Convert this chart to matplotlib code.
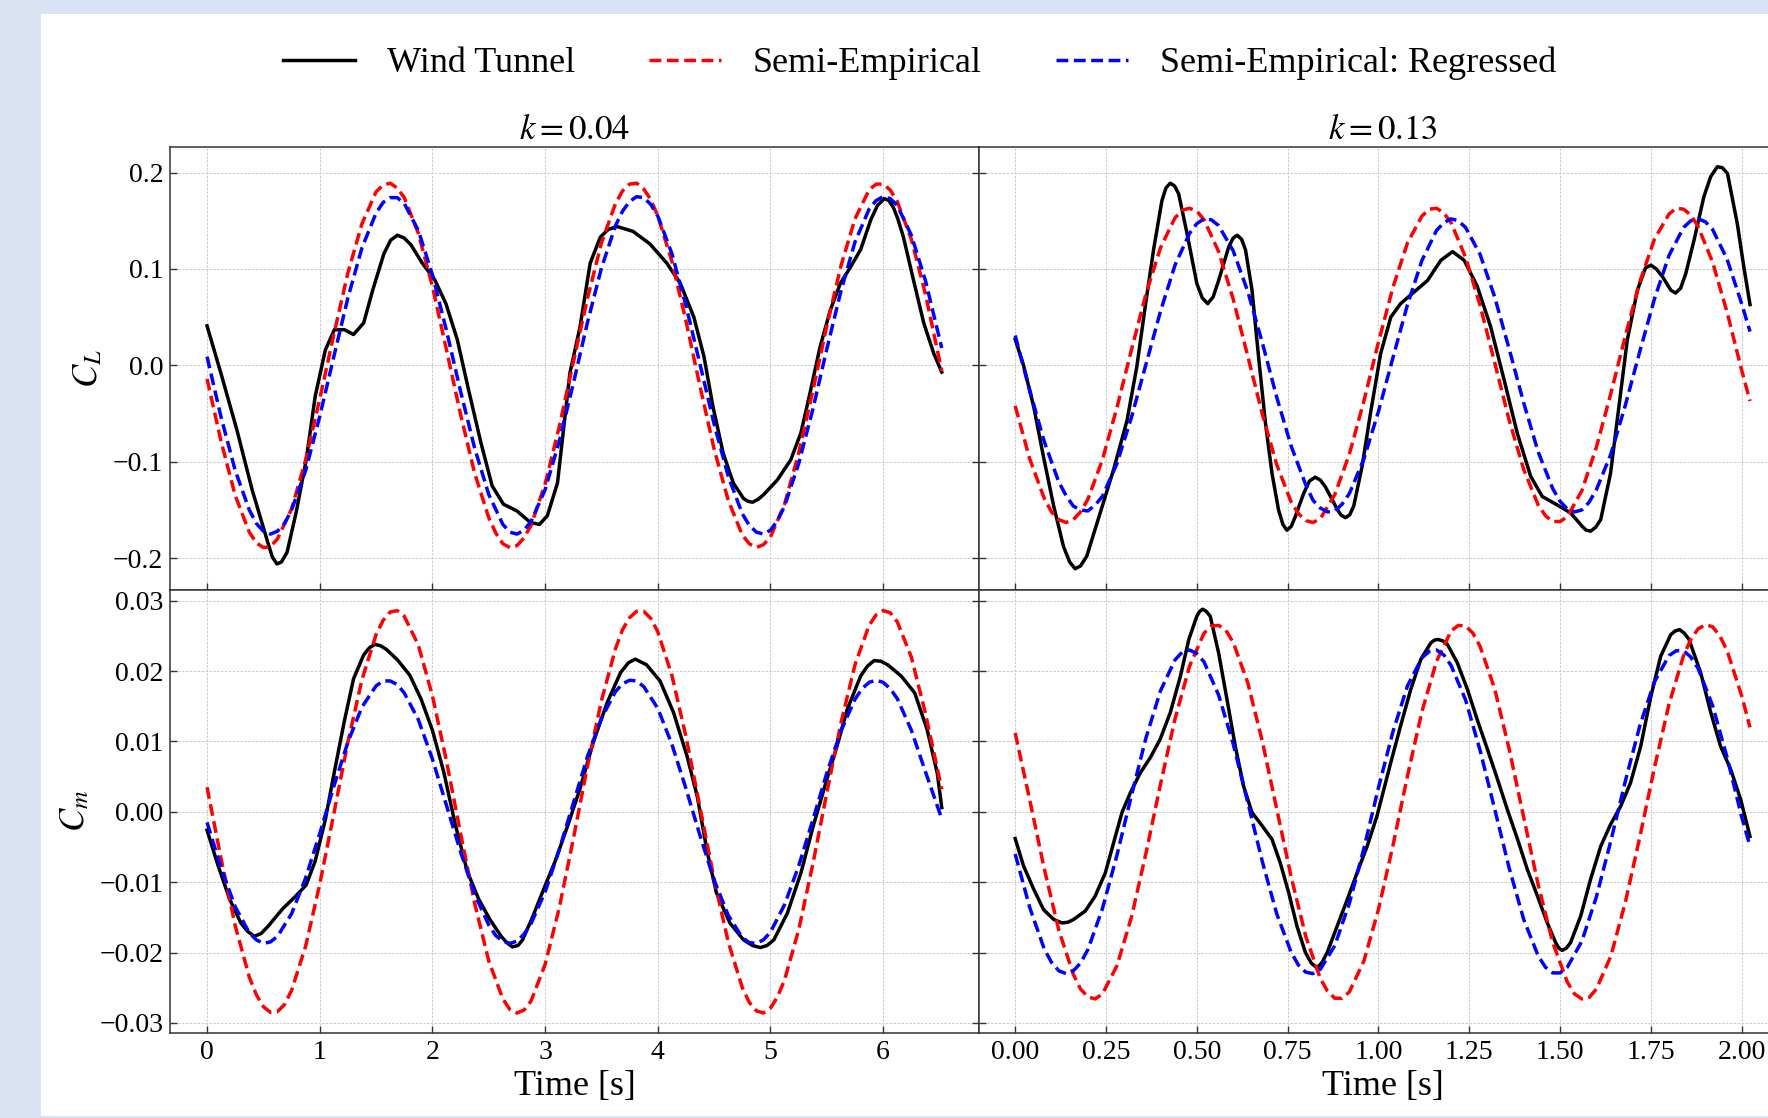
import numpy as np
import matplotlib
matplotlib.use('Agg')
import matplotlib.pyplot as plt
from matplotlib.patches import Rectangle
from matplotlib.ticker import MultipleLocator, FormatStrFormatter

plt.rcParams['font.family'] = ['Liberation Serif', 'DejaVu Serif']
plt.rcParams['mathtext.fontset'] = 'stix'
plt.rcParams['axes.unicode_minus'] = True

# ---------------- data ----------------
series_labels = ['Wind Tunnel', 'Semi-Empirical', 'Semi-Empirical: Regressed']
panel_titles = [r'$k=0.04$', r'$k=0.13$']
row_labels = [r'$C_L$', r'$C_m$']

# ===== k = 0.04, wind tunnel =====
t_wt_cl_04 = [0, 0.13, 0.265, 0.40, 0.54, 0.62, 0.71, 0.79, 0.88, 0.96, 1.05, 1.13, 1.22, 1.30, 1.39,
              1.47, 1.57, 1.69, 1.81, 1.91, 2.02, 2.12, 2.22, 2.32, 2.43, 2.53, 2.63, 2.75, 2.87, 2.95,
              3.02, 3.11, 3.16, 3.22, 3.31, 3.40, 3.49, 3.64, 3.78, 3.93, 4.08, 4.20, 4.32, 4.41, 4.49,
              4.58, 4.67, 4.76, 4.84, 4.94, 5.06, 5.18, 5.27, 5.35, 5.44, 5.53, 5.62, 5.71, 5.80, 5.89,
              6.01, 6.09, 6.18, 6.27, 6.36, 6.45, 6.52]
cl_wt_04 = [0.041, -0.011, -0.067, -0.129, -0.184, -0.206, -0.194, -0.153, -0.098, -0.032, 0.016, 0.037,
            0.037, 0.032, 0.044, 0.078, 0.116, 0.135, 0.125, 0.106, 0.089, 0.064, 0.027, -0.025, -0.080,
            -0.125, -0.144, -0.151, -0.163, -0.165, -0.156, -0.122, -0.070, -0.008, 0.040, 0.106, 0.133,
            0.144, 0.139, 0.126, 0.106, 0.085, 0.050, 0.009, -0.043, -0.091, -0.122, -0.138, -0.142,
            -0.134, -0.119, -0.098, -0.070, -0.029, 0.019, 0.057, 0.085, 0.102, 0.120, 0.151, 0.173,
            0.164, 0.133, 0.088, 0.044, 0.012, -0.007]
t_wt_cl_04_x = [0.58, 0.66, 1.63, 1.75, 3.56, 4.80, 4.89, 5.95, 6.05, 6.13]
cl_wt_04_x = [-0.199, -0.204, 0.130, 0.132, 0.141, -0.141, -0.139, 0.166, 0.171, 0.152]

t_wt_cm_04 = [0, 0.095, 0.20, 0.30, 0.42, 0.54, 0.67, 0.78, 0.88, 0.96, 1.05, 1.13, 1.22, 1.30, 1.39,
              1.49, 1.59, 1.69, 1.80, 1.90, 2.00, 2.10, 2.20, 2.31, 2.41, 2.51, 2.61, 2.71, 2.80, 2.88,
              2.99, 3.09, 3.20, 3.31, 3.43, 3.55, 3.67, 3.80, 3.90, 4.02, 4.14, 4.26, 4.35, 4.44, 4.52,
              4.64, 4.76, 4.91, 5.03, 5.15, 5.27, 5.38, 5.50, 5.59, 5.68, 5.80, 5.92, 6.04, 6.16, 6.28,
              6.39, 6.48, 6.52]
cm_wt_04 = [-0.0026, -0.0075, -0.0124, -0.0158, -0.0177, -0.0163, -0.0138, -0.0121, -0.0104, -0.0070,
            -0.0011, 0.0057, 0.0130, 0.0189, 0.0223, 0.0238, 0.0231, 0.0216, 0.0194, 0.0160, 0.0116,
            0.0057, -0.0016, -0.0085, -0.0124, -0.0153, -0.0177, -0.0192, -0.0182, -0.0153, -0.0109,
            -0.0070, -0.0020, 0.0033, 0.0100, 0.0155, 0.0198, 0.0217, 0.0209, 0.0186, 0.0141, 0.0079,
            0.0022, -0.0058, -0.0115, -0.0158, -0.0182, -0.0193, -0.0182, -0.0144, -0.0087, -0.0020,
            0.0046, 0.0093, 0.0145, 0.0193, 0.0215, 0.0209, 0.0193, 0.0169, 0.0117, 0.0055, 0.0006]
t_wt_cm_04_x = [0.36, 0.48, 1.44, 1.54, 2.66, 2.76, 3.74, 4.84, 4.97, 5.86, 5.98]
cm_wt_04_x = [-0.0170, -0.0173, 0.0233, 0.0236, -0.0186, -0.0190, 0.0212, -0.0190, -0.0190, 0.0207, 0.0214]

# ===== k = 0.04, semi-empirical models =====
t_se_04 = [0, 0.125, 0.25, 0.375, 0.5, 0.625, 0.75, 0.875, 1.0, 1.125, 1.25, 1.375, 1.5, 1.625, 1.75,
           1.875, 2.0, 2.125, 2.25, 2.375, 2.5, 2.625, 2.75, 2.875, 3.0, 3.125, 3.25, 3.375, 3.5, 3.625,
           3.75, 3.875, 4.0, 4.125, 4.25, 4.375, 4.5, 4.625, 4.75, 4.875, 5.0, 5.125, 5.25, 5.375, 5.5,
           5.625, 5.75, 5.875, 6.0, 6.125, 6.25, 6.375, 6.52]
cl_se_04 = [-0.014, -0.079, -0.135, -0.173, -0.189, -0.180, -0.149, -0.098, -0.035, 0.032, 0.096, 0.147,
            0.180, 0.189, 0.174, 0.137, 0.082, 0.016, -0.051, -0.112, -0.158, -0.185, -0.187, -0.166,
            -0.123, -0.064, 0.003, 0.069, 0.127, 0.168, 0.188, 0.183, 0.155, 0.108, 0.046, -0.022,
            -0.087, -0.140, -0.176, -0.189, -0.178, -0.144, -0.091, -0.027, 0.041, 0.103, 0.152, 0.182,
            0.188, 0.170, 0.131, 0.074, -0.006]
t_cl_se_04_x = [0.4375, 0.5625, 1.5625, 1.6875, 2.5625, 2.6875, 2.8125, 3.6875, 3.8125, 3.9375,
                4.8125, 4.9375, 5.9375, 6.0625]
cl_se_04_x = [-0.184, -0.188, 0.187, 0.184, -0.174, -0.189, -0.179, 0.181, 0.189, 0.172,
              -0.185, -0.186, 0.188, 0.182]

cl_reg_04 = [0.009, -0.054, -0.109, -0.150, -0.172, -0.172, -0.150, -0.109, -0.053, 0.009, 0.070, 0.122,
             0.158, 0.174, 0.168, 0.140, 0.094, 0.036, -0.027, -0.086, -0.134, -0.165, -0.175, -0.162,
             -0.129, -0.079, -0.019, 0.044, 0.101, 0.145, 0.170, 0.174, 0.155, 0.116, 0.062, 0.001,
             -0.061, -0.115, -0.154, -0.173, -0.171, -0.146, -0.102, -0.046, 0.017, 0.077, 0.128, 0.162,
             0.175, 0.166, 0.135, 0.088, 0.018]
t_cl_reg_04_x = [0.4375, 0.5625, 0.6875, 1.5625, 1.6875, 2.6875, 2.8125, 3.6875, 3.8125, 3.9375,
                 4.8125, 4.9375, 5.0625, 5.9375, 6.0625]
cl_reg_04_x = [-0.164, -0.175, -0.164, 0.169, 0.174, -0.173, -0.171, 0.160, 0.175, 0.167,
               -0.166, -0.175, -0.161, 0.171, 0.173]

cm_se_04 = [0.0035, -0.0067, -0.0162, -0.0235, -0.0277, -0.0284, -0.0254, -0.0191, -0.0103, -0.0003,
            0.0099, 0.0188, 0.0252, 0.0284, 0.0278, 0.0237, 0.0165, 0.0072, -0.0031, -0.0130, -0.0212,
            -0.0266, -0.0286, -0.0269, -0.0217, -0.0137, -0.0039, 0.0064, 0.0158, 0.0232, 0.0276,
            0.0285, 0.0256, 0.0194, 0.0107, 0.0006, -0.0096, -0.0185, -0.0250, -0.0283, -0.0279,
            -0.0239, -0.0168, -0.0075, 0.0027, 0.0126, 0.0209, 0.0265, 0.0286, 0.0270, 0.0220, 0.0140,
            0.0032]
t_cm_se_04_x = [0.4375, 0.5625, 0.6875, 1.5625, 1.6875, 2.6875, 2.8125, 3.6875, 3.8125, 3.9375,
                4.8125, 4.9375, 5.0625, 5.9375, 6.0625]
cm_se_04_x = [-0.0260, -0.0285, -0.0274, 0.0272, 0.0286, -0.0281, -0.0282, 0.0259, 0.0285, 0.0275,
              -0.0271, -0.0286, -0.0263, 0.0280, 0.0283]

cm_reg_04 = [-0.0015, -0.0080, -0.0135, -0.0172, -0.0187, -0.0177, -0.0145, -0.0094, -0.0031, 0.0036,
             0.0099, 0.0149, 0.0179, 0.0186, 0.0169, 0.0131, 0.0075, 0.0009, -0.0057, -0.0117, -0.0161,
             -0.0184, -0.0184, -0.0159, -0.0114, -0.0054, 0.0012, 0.0078, 0.0133, 0.0171, 0.0187,
             0.0178, 0.0147, 0.0096, 0.0033, -0.0034, -0.0097, -0.0147, -0.0179, -0.0187, -0.0171,
             -0.0132, -0.0077, -0.0012, 0.0055, 0.0115, 0.0160, 0.0184, 0.0184, 0.0161, 0.0116, 0.0057,
             -0.0010]
t_cm_reg_04_x = [0.4375, 0.5625, 1.5625, 1.6875, 2.5625, 2.6875, 2.8125, 3.6875, 3.8125,
                 4.8125, 4.9375, 5.8125, 5.9375, 6.0625]
cm_reg_04_x = [-0.0182, -0.0185, 0.0186, 0.0181, -0.0176, -0.0187, -0.0174, 0.0182, 0.0186,
               -0.0186, -0.0182, 0.0175, 0.0187, 0.0175]

# ===== k = 0.13, wind tunnel =====
t_wt_cl_13 = [0, 0.023, 0.051, 0.078, 0.106, 0.133, 0.165, 0.197, 0.234, 0.271, 0.308, 0.335, 0.358,
              0.381, 0.404, 0.427, 0.450, 0.473, 0.500, 0.530, 0.560, 0.588, 0.611, 0.634, 0.652, 0.670,
              0.689, 0.707, 0.725, 0.748, 0.771, 0.794, 0.826, 0.854, 0.882, 0.909, 0.932, 0.955, 0.978,
              1.006, 1.034, 1.061, 1.098, 1.135, 1.172, 1.204, 1.236, 1.272, 1.309, 1.346, 1.382, 1.419,
              1.451, 1.493, 1.529, 1.561, 1.584, 1.612, 1.639, 1.662, 1.685, 1.713, 1.750, 1.782, 1.818,
              1.846, 1.869, 1.896, 1.933, 1.961, 1.988, 2.006, 2.023]
cl_wt_13 = [0.027, 0.000, -0.043, -0.095, -0.146, -0.188, -0.211, -0.198, -0.153, -0.108, -0.057, -0.001,
            0.061, 0.120, 0.171, 0.189, 0.178, 0.137, 0.085, 0.064, 0.088, 0.123, 0.135, 0.120, 0.078,
            0.009, -0.060, -0.112, -0.150, -0.171, -0.157, -0.133, -0.116, -0.126, -0.146, -0.158,
            -0.146, -0.105, -0.050, 0.012, 0.050, 0.064, 0.076, 0.088, 0.109, 0.118, 0.109, 0.082, 0.040,
            -0.015, -0.070, -0.115, -0.136, -0.145, -0.153, -0.167, -0.172, -0.160, -0.112, -0.043, 0.026,
            0.078, 0.104, 0.092, 0.075, 0.095, 0.130, 0.175, 0.206, 0.199, 0.147, 0.102, 0.063]
t_wt_cl_13_x = [0.150, 0.180, 0.415, 0.439, 0.515, 0.545, 0.600, 0.623, 0.737, 0.760, 0.810, 0.840,
                0.896, 0.921, 1.572, 1.598, 1.735, 1.765, 1.805, 1.832, 1.915, 1.947]
cl_wt_13_x = [-0.204, -0.208, 0.184, 0.186, 0.070, 0.071, 0.132, 0.131, -0.165, -0.167, -0.120, -0.119,
              -0.155, -0.155, -0.171, -0.168, 0.101, 0.100, 0.078, 0.080, 0.196, 0.205]

t_wt_cm_13 = [0, 0.023, 0.051, 0.078, 0.106, 0.129, 0.161, 0.193, 0.220, 0.248, 0.271, 0.294, 0.317,
              0.344, 0.372, 0.399, 0.427, 0.455, 0.478, 0.500, 0.516, 0.537, 0.560, 0.583, 0.606, 0.629,
              0.652, 0.680, 0.707, 0.730, 0.753, 0.776, 0.799, 0.831, 0.859, 0.886, 0.914, 0.941, 0.969,
              0.996, 1.034, 1.061, 1.089, 1.117, 1.144, 1.164, 1.190, 1.217, 1.245, 1.272, 1.300, 1.328,
              1.355, 1.383, 1.410, 1.438, 1.465, 1.488, 1.506, 1.529, 1.557, 1.584, 1.612, 1.639, 1.667,
              1.694, 1.722, 1.750, 1.777, 1.805, 1.829, 1.855, 1.887, 1.915, 1.942, 1.970, 1.997, 2.023]
cm_wt_13 = [-0.0038, -0.0077, -0.0110, -0.0139, -0.0153, -0.0158, -0.0153, -0.0141, -0.0120, -0.0087,
            -0.0044, -0.0001, 0.0027, 0.0055, 0.0077, 0.0103, 0.0141, 0.0193, 0.0245, 0.0278, 0.0288,
            0.0278, 0.0226, 0.0160, 0.0093, 0.0036, -0.0001, -0.0020, -0.0039, -0.0073, -0.0115, -0.0163,
            -0.0200, -0.0222, -0.0200, -0.0163, -0.0125, -0.0087, -0.0049, -0.0006, 0.0070, 0.0122,
            0.0174, 0.0217, 0.0240, 0.0245, 0.0238, 0.0212, 0.0174, 0.0131, 0.0089, 0.0046, 0.0003,
            -0.0039, -0.0082, -0.0120, -0.0158, -0.0186, -0.0197, -0.0186, -0.0148, -0.0096, -0.0049,
            -0.0018, 0.0008, 0.0041, 0.0093, 0.0164, 0.0221, 0.0252, 0.0259, 0.0245, 0.0198, 0.0141,
            0.0093, 0.0060, 0.0018, -0.0035]
t_wt_cm_13_x = [0.145, 0.508, 0.526, 0.815, 0.845, 1.154, 1.177, 1.497, 1.517, 1.817, 1.842]
cm_wt_13_x = [-0.0157, 0.0285, 0.0285, -0.0215, -0.0214, 0.0244, 0.0243, -0.0194, -0.0194, 0.0257, 0.0254]

# ===== k = 0.13, semi-empirical models =====
t_se_13 = [0, 0.04, 0.08, 0.12, 0.16, 0.20, 0.24, 0.28, 0.32, 0.36, 0.40, 0.44, 0.48, 0.52, 0.56, 0.60,
           0.64, 0.68, 0.72, 0.76, 0.80, 0.84, 0.88, 0.92, 0.96, 1.00, 1.04, 1.08, 1.12, 1.16, 1.20, 1.24,
           1.28, 1.32, 1.36, 1.40, 1.44, 1.48, 1.52, 1.56, 1.60, 1.64, 1.68, 1.72, 1.76, 1.80, 1.84, 1.88,
           1.92, 1.96, 2.00, 2.023]
cl_se_13 = [-0.042, -0.097, -0.138, -0.160, -0.160, -0.139, -0.098, -0.044, 0.016, 0.074, 0.122, 0.153,
            0.163, 0.151, 0.118, 0.069, 0.010, -0.050, -0.103, -0.142, -0.161, -0.159, -0.134, -0.092,
            -0.037, 0.024, 0.081, 0.127, 0.155, 0.163, 0.148, 0.112, 0.062, 0.003, -0.057, -0.108,
            -0.145, -0.162, -0.157, -0.130, -0.085, -0.029, 0.031, 0.087, 0.131, 0.157, 0.162, 0.144,
            0.107, 0.055, -0.005, -0.037]
t_cl_se_13_x = [0.10, 0.14, 0.18, 0.46, 0.50, 0.78, 0.82, 1.14, 1.18, 1.46, 1.50, 1.82, 1.86]
cl_se_13_x = [-0.152, -0.163, -0.152, 0.161, 0.160, -0.154, -0.163, 0.162, 0.158, -0.156, -0.162,
              0.163, 0.156]

cl_reg_13 = [0.031, -0.026, -0.079, -0.121, -0.146, -0.151, -0.136, -0.102, -0.054, 0.001, 0.056, 0.104,
             0.137, 0.152, 0.145, 0.119, 0.077, 0.024, -0.033, -0.084, -0.124, -0.148, -0.151, -0.133,
             -0.097, -0.048, 0.008, 0.063, 0.109, 0.140, 0.152, 0.143, 0.115, 0.071, 0.017, -0.039,
             -0.090, -0.128, -0.149, -0.150, -0.129, -0.092, -0.041, 0.015, 0.069, 0.114, 0.143, 0.152,
             0.141, 0.110, 0.064, 0.035]
t_cl_reg_13_x = [0.14, 0.18, 0.22, 0.50, 0.54, 0.82, 0.86, 0.90, 1.18, 1.22, 1.50, 1.54, 1.58,
                 1.86, 1.90]
cl_reg_13_x = [-0.135, -0.150, -0.145, 0.147, 0.151, -0.140, -0.152, -0.144, 0.148, 0.150, -0.141,
               -0.152, -0.142, 0.150, 0.149]

cm_se_13 = [0.0112, 0.0017, -0.0081, -0.0168, -0.0231, -0.0263, -0.0259, -0.0219, -0.0150, -0.0059,
            0.0039, 0.0132, 0.0207, 0.0254, 0.0265, 0.0241, 0.0184, 0.0101, 0.0004, -0.0093, -0.0177,
            -0.0237, -0.0265, -0.0256, -0.0212, -0.0139, -0.0048, 0.0051, 0.0143, 0.0214, 0.0257, 0.0264,
            0.0235, 0.0175, 0.0089, -0.0008, -0.0104, -0.0186, -0.0242, -0.0266, -0.0252, -0.0205,
            -0.0128, -0.0035, 0.0063, 0.0153, 0.0222, 0.0260, 0.0263, 0.0229, 0.0165, 0.0120]
t_cm_se_13_x = [0.18, 0.22, 0.54, 0.58, 0.86, 0.90, 1.22, 1.26, 1.54, 1.58, 1.86, 1.90, 1.94]
cm_se_13_x = [-0.0252, -0.0266, 0.0264, 0.0258, -0.0255, -0.0265, 0.0265, 0.0254, -0.0259, -0.0264,
              0.0245, 0.0266, 0.0250]

cm_reg_13 = [-0.0060, -0.0136, -0.0195, -0.0226, -0.0226, -0.0196, -0.0138, -0.0062, 0.0023, 0.0105,
             0.0172, 0.0216, 0.0230, 0.0213, 0.0166, 0.0097, 0.0014, -0.0070, -0.0145, -0.0200, -0.0228,
             -0.0224, -0.0190, -0.0130, -0.0052, 0.0034, 0.0114, 0.0179, 0.0219, 0.0230, 0.0208, 0.0159,
             0.0087, 0.0004, -0.0080, -0.0153, -0.0205, -0.0229, -0.0221, -0.0184, -0.0121, -0.0041,
             0.0044, 0.0123, 0.0185, 0.0222, 0.0229, 0.0204, 0.0151, 0.0077, -0.0007, -0.0049]
t_cm_reg_13_x = [0.10, 0.14, 0.18, 0.46, 0.50, 0.78, 0.82, 1.14, 1.18, 1.46, 1.50, 1.82, 1.86]
cm_reg_13_x = [-0.0214, -0.0230, -0.0215, 0.0227, 0.0225, -0.0218, -0.0230, 0.0228, 0.0223, -0.0221,
               -0.0229, 0.0229, 0.0220]


def merge(t, v, te, ve):
    """Combine the main readings with extra readings near extrema, ordered by time."""
    tt = np.concatenate([np.asarray(t, float), np.asarray(te, float)])
    vv = np.concatenate([np.asarray(v, float), np.asarray(ve, float)])
    order = np.argsort(tt, kind='stable')
    return tt[order], vv[order]


# ---------------- figure ----------------
W, H = 1768, 1118
fig = plt.figure(figsize=(W / 100, H / 100), dpi=100, facecolor='#dae3f3')
bg = Rectangle((40.5 / W, 2 / H), 1.0, (1116 - 14.3) / H, transform=fig.transFigure,
               facecolor='white', edgecolor='none', zorder=-10)
fig.add_artist(bg)

x0 = 170.3 / W
xm = 978.5 / W
pw = (978.5 - 170.3) / W
ytop = 1 - 147.3 / H
ymid = 1 - 589.5 / H
ybot = 1 - 1032.7 / H

ax_tl = fig.add_axes([x0, ymid, pw, ytop - ymid])
ax_tr = fig.add_axes([xm, ymid, pw, ytop - ymid])
ax_bl = fig.add_axes([x0, ybot, pw, ymid - ybot])
ax_br = fig.add_axes([xm, ybot, pw, ymid - ybot])

LW = 2.5
colors = ['black', '#ff0000', '#0000ff']
DASH = (0, (3.4, 1.6))
styles = ['-', DASH, DASH]

panels = [
    (ax_tl, merge(t_wt_cl_04, cl_wt_04, t_wt_cl_04_x, cl_wt_04_x),
     merge(t_se_04, cl_se_04, t_cl_se_04_x, cl_se_04_x),
     merge(t_se_04, cl_reg_04, t_cl_reg_04_x, cl_reg_04_x)),
    (ax_tr, merge(t_wt_cl_13, cl_wt_13, t_wt_cl_13_x, cl_wt_13_x),
     merge(t_se_13, cl_se_13, t_cl_se_13_x, cl_se_13_x),
     merge(t_se_13, cl_reg_13, t_cl_reg_13_x, cl_reg_13_x)),
    (ax_bl, merge(t_wt_cm_04, cm_wt_04, t_wt_cm_04_x, cm_wt_04_x),
     merge(t_se_04, cm_se_04, t_cm_se_04_x, cm_se_04_x),
     merge(t_se_04, cm_reg_04, t_cm_reg_04_x, cm_reg_04_x)),
    (ax_br, merge(t_wt_cm_13, cm_wt_13, t_wt_cm_13_x, cm_wt_13_x),
     merge(t_se_13, cm_se_13, t_cm_se_13_x, cm_se_13_x),
     merge(t_se_13, cm_reg_13, t_cm_reg_13_x, cm_reg_13_x)),
]

handles = None
for ax, *curves in panels:
    hs = []
    for (tt, vv), c, ls, lab in zip(curves, colors, styles, series_labels):
        h, = ax.plot(tt, vv, color=c, linestyle=ls, linewidth=LW, label=lab,
                     solid_joinstyle='round', dash_joinstyle='round', dash_capstyle='butt')
        hs.append(h)
    if handles is None:
        handles = hs
    ax.set_facecolor('white')
    ax.set_zorder(1)
    ax.grid(True, color='#cbcbcb', linestyle=(0, (2.5, 1.5)), linewidth=0.7)
    ax.set_axisbelow(True)
    for sp in ax.spines.values():
        sp.set_color('#333333')
        sp.set_linewidth(1.1)
    ax.tick_params(direction='in', length=5, width=1.0, color='#333333', labelsize=20)
    ax.tick_params(axis='x', pad=5)
    ax.tick_params(axis='y', pad=5)

for ax in (ax_tl, ax_bl):
    ax.set_xlim(-0.326, 6.846)
    ax.xaxis.set_major_locator(MultipleLocator(1))
    ax.tick_params(right=True)
for ax in (ax_tr, ax_br):
    ax.set_xlim(-0.101, 2.124)
    ax.xaxis.set_major_locator(MultipleLocator(0.25))
    ax.xaxis.set_major_formatter(FormatStrFormatter('%.2f'))
    ax.tick_params(left=True, labelleft=False)
for ax in (ax_tl, ax_tr):
    ax.set_ylim(-0.2325, 0.2262)
    ax.yaxis.set_major_locator(MultipleLocator(0.1))
    ax.tick_params(labelbottom=False)
for ax in (ax_bl, ax_br):
    ax.set_ylim(-0.0314, 0.0316)
    ax.yaxis.set_major_locator(MultipleLocator(0.01))
    ax.set_xlabel('Time [s]', fontsize=26, labelpad=4)

ax_tl.set_title(panel_titles[0], fontsize=25, pad=5)
ax_tr.set_title(panel_titles[1], fontsize=25, pad=5)
ax_tl.set_ylabel(row_labels[0], fontsize=25, labelpad=6)
ax_bl.set_ylabel(row_labels[1], fontsize=25, labelpad=5)

fig.legend(handles, series_labels, loc='center', bbox_to_anchor=(0.520, 0.9433), ncol=3,
           frameon=False, fontsize=26, handlelength=2.0, handletextpad=0.88, columnspacing=2.05)

fig.savefig('out.png', dpi=100, facecolor=fig.get_facecolor())
